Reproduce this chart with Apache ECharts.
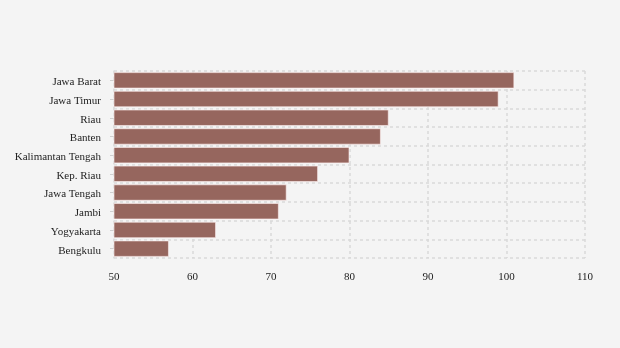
<!DOCTYPE html>
<html>
<head>
<meta charset="utf-8">
<script src="https://cdn.jsdelivr.net/npm/echarts@6/dist/echarts.min.js"></script>
<style>
  html, body { margin: 0; padding: 0; background: #f4f4f4; }
  #chart { width: 620px; height: 348px; }
</style>
</head>
<body>
<div id="chart"></div>
<script>
// Provinces, listed top to bottom
const provinces = ['Jawa Barat', 'Jawa Timur', 'Riau', 'Banten', 'Kalimantan Tengah',
  'Kep. Riau', 'Jawa Tengah', 'Jambi', 'Yogyakarta', 'Bengkulu'];
const values = [101, 99, 85, 84, 80, 76, 72, 71, 63, 57];
const xTicks = [50, 60, 70, 80, 90, 100, 110];

const chart = echarts.init(document.getElementById('chart'), null, { renderer: 'canvas' });
const font = '"Liberation Serif", "Times New Roman", serif';

chart.setOption({
  backgroundColor: '#f4f4f4',
  animation: false,
  grid: { left: 114, right: 35, top: 71, bottom: 90, containLabel: false },
  xAxis: {
    type: 'value',
    min: xTicks[0],
    max: xTicks[xTicks.length - 1],
    interval: 10,
    axisLine: { show: false },
    axisTick: { show: false },
    axisLabel: { color: '#222', fontFamily: font, fontSize: 11, margin: 14 },
    splitLine: { show: true, lineStyle: { color: '#d9d9d9', type: [3, 3], width: 1.5 } }
  },
  yAxis: {
    type: 'category',
    data: provinces,
    inverse: true,
    axisLine: { show: true, lineStyle: { color: '#dcdcdc', type: [3, 3], width: 1.5 } },
    axisTick: { show: true, alignWithLabel: true, length: 4, lineStyle: { color: '#d0d0d0' } },
    axisLabel: {
      margin: 13,
      formatter: name => '{p|' + name + '}',
      rich: { p: { color: '#222', fontFamily: font, fontSize: 11, padding: [4, 0, 0, 0] } }
    },
    splitLine: { show: true, lineStyle: { color: '#d9d9d9', type: [3, 3], width: 1.5 } }
  },
  series: [{
    type: 'bar',
    data: values,
    barCategoryGap: '12%',
    itemStyle: { color: '#96665e', borderColor: 'rgba(255,240,240,0.6)', borderWidth: 1 }
  }]
});
</script>
</body>
</html>
